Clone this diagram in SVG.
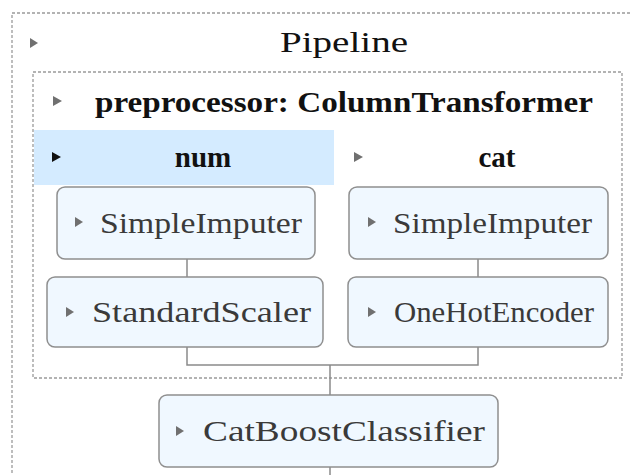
<svg xmlns="http://www.w3.org/2000/svg" width="630" height="475" viewBox="0 0 630 475">
<style>
.dash{fill:none;stroke:#9a9a9a;stroke-width:1.3;stroke-dasharray:3 2}
.box{fill:#f0f8ff;stroke:#8f8f8f;stroke-width:1.5}
.lbl{font-family:"Liberation Serif","DejaVu Serif",serif;font-size:29px;fill:#3a3a3a}
.hdr{font-family:"Liberation Serif","DejaVu Serif",serif;font-size:29px;fill:#111;font-weight:bold}
.tri{fill:#707070}
.conn{fill:none;stroke:#8a8a8a;stroke-width:1.5}
</style>
<rect width="630" height="475" fill="#ffffff"/>
<g id="pipeline">
<rect class="dash" x="12" y="13" width="700" height="500"/>
<polygon class="tri" points="30,38 38,43 30,48"/>
<text class="lbl" x="280" y="52" textLength="128" lengthAdjust="spacingAndGlyphs" style="fill:#111">Pipeline</text>
</g>
<g id="preprocessor">
<rect class="dash" x="33" y="72" width="589" height="306"/>
<polygon class="tri" points="53,96 62,101 53,106"/>
<text class="hdr" x="95" y="112" textLength="498" lengthAdjust="spacingAndGlyphs">preprocessor: ColumnTransformer</text>
</g>
<g id="num">
<rect x="34" y="130" width="300" height="55" fill="#d4ebff"/>
<polygon points="52,152 61,157 52,162" fill="#111"/>
<text class="hdr" x="203" y="167" text-anchor="middle">num</text>
</g>
<g id="cat">
<polygon class="tri" points="354,152 363,157 354,162"/>
<text class="hdr" x="497" y="167" text-anchor="middle">cat</text>
</g>
<g id="connectors">
<path class="conn" d="M187 259V277M478 259V277M187 347V365H478V347M330 365V395M330 467V475"/>
</g>
<g id="num-imputer">
<rect class="box" x="57" y="187" width="258" height="72" rx="8"/>
<polygon class="tri" points="75,217 83,222 75,227"/>
<text class="lbl" x="100" y="233" textLength="202" lengthAdjust="spacingAndGlyphs">SimpleImputer</text>
</g>
<g id="cat-imputer">
<rect class="box" x="349" y="187" width="259" height="72" rx="8"/>
<polygon class="tri" points="368,217 376,222 368,227"/>
<text class="lbl" x="393" y="233" textLength="199" lengthAdjust="spacingAndGlyphs">SimpleImputer</text>
</g>
<g id="scaler">
<rect class="box" x="47" y="277" width="276" height="70" rx="8"/>
<polygon class="tri" points="66,307 74,312 66,317"/>
<text class="lbl" x="92" y="322" textLength="219" lengthAdjust="spacingAndGlyphs">StandardScaler</text>
</g>
<g id="encoder">
<rect class="box" x="348" y="277" width="260" height="70" rx="8"/>
<polygon class="tri" points="368,307 376,312 368,317"/>
<text class="lbl" x="394" y="322" textLength="200" lengthAdjust="spacingAndGlyphs">OneHotEncoder</text>
</g>
<g id="classifier">
<rect class="box" x="159" y="395" width="339" height="72" rx="8"/>
<polygon class="tri" points="176,426 184,431 176,436"/>
<text class="lbl" x="203" y="441" textLength="282" lengthAdjust="spacingAndGlyphs">CatBoostClassifier</text>
</g>
</svg>
